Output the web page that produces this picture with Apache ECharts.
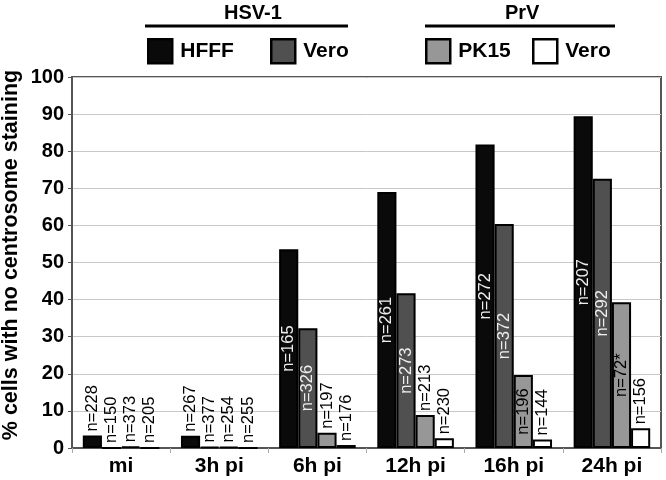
<!DOCTYPE html>
<html>
<head>
<meta charset="utf-8">
<script src="https://cdn.jsdelivr.net/npm/echarts@6/dist/echarts.min.js"></script>
<style>html,body{margin:0;padding:0;background:#fff}#c{width:666px;height:480px}</style>
</head>
<body>
<div id="c"></div>
<script>
const categories = ['mi', '3h pi', '6h pi', '12h pi', '16h pi', '24h pi'];
const seriesNames = ['HFFF', 'Vero (HSV-1)', 'PK15', 'Vero (PrV)'];
const hsvHFFF = [3.4, 3.3, 53.6, 69.0, 81.8, 89.4];
const hsvVero = [0, 0.3, 32.3, 41.7, 60.4, 72.6];
const prvPK15 = [0.4, 0.3, 4.1, 8.9, 19.7, 39.3];
const prvVero = [0, 0, 0.8, 2.6, 2.3, 5.3];
const nHFFF = ['n=228', 'n=267', 'n=165', 'n=261', 'n=272', 'n=207'];
const nHsvVero = ['n=150', 'n=377', 'n=326', 'n=273', 'n=372', 'n=292'];
const nPK15 = ['n=373', 'n=254', 'n=197', 'n=213', 'n=196', 'n=72*'];
const nPrvVero = ['n=205', 'n=255', 'n=176', 'n=230', 'n=144', 'n=156'];
const yTicks = [0, 10, 20, 30, 40, 50, 60, 70, 80, 90, 100];

const FONT = 'Liberation Sans, Arial, sans-serif';
const colors = ['#0a0a0a', '#505050', '#979797', '#ffffff'];
const insideColors = ['#eeeeee', '#eeeeee', '#000000', '#000000'];
const values = [hsvHFFF, hsvVero, prvPK15, prvVero];
const labels = [nHFFF, nHsvVero, nPK15, nPrvVero];

function buildData(si) {
  return values[si].map((v, i) => {
    const inside = v > 15;
    return {
      value: v,
      label: inside ? {
        position: 'inside', rotate: 90, color: insideColors[si],
        align: 'center', verticalAlign: 'middle'
      } : {
        position: 'top', rotate: 90, color: '#000',
        align: 'left', verticalAlign: 'middle', distance: 4
      }
    };
  });
}

const series = seriesNames.map((name, si) => ({
  name: name,
  type: 'bar',
  barGap: '0%',
  barCategoryGap: '22%',
  data: buildData(si),
  itemStyle: { color: colors[si], borderColor: '#000', borderWidth: 2 },
  label: {
    show: true,
    fontFamily: FONT, fontSize: 16.5,
    formatter: p => labels[si][p.dataIndex]
  },
  emphasis: { disabled: true }
}));

const legendPos = [142, 265, 420, 527];
const legends = seriesNames.map((name, i) => ({
  data: [name],
  left: legendPos[i], top: 33,
  icon: 'rect', itemWidth: 24, itemHeight: 24,
  itemStyle: { borderColor: '#000', borderWidth: 2.5 },
  formatter: n => n.replace(/ \(.*\)/, ''),
  textStyle: { fontFamily: FONT, fontSize: 21, fontWeight: 'bold', color: '#000', padding: [0, 0, 0, 3] },
  selectedMode: false
}));

const chart = echarts.init(document.getElementById('c'));
chart.setOption({
  animation: false,
  backgroundColor: '#fff',
  legend: legends,
  grid: { left: 72, right: 5, top: 77, bottom: 32, show: true, borderColor: '#555', borderWidth: 2, containLabel: false, outerBoundsMode: 'none' },
  xAxis: {
    type: 'category', data: categories,
    axisLine: { show: true, lineStyle: { color: '#555', width: 2 } },
    axisTick: { show: true, length: 5, lineStyle: { color: '#aaa' } },
    axisLabel: { fontFamily: FONT, fontSize: 21, fontWeight: 'bold', color: '#000', margin: 8 }
  },
  yAxis: {
    type: 'value', min: yTicks[0], max: yTicks[yTicks.length - 1], interval: 10,
    axisLine: { show: true, lineStyle: { color: '#555', width: 2 } },
    axisTick: { show: true, length: 4, lineStyle: { color: '#555' } },
    splitLine: { lineStyle: { color: '#c8c8c8', width: 1 } },
    axisLabel: { fontFamily: FONT, fontSize: 20, fontWeight: 'bold', color: '#000', margin: 8 }
  },
  graphic: [
    { type: 'text', x: 11, y: 255, rotation: Math.PI / 2,
      style: { text: '% cells with no centrosome staining', font: 'bold 21.5px ' + FONT, fill: '#000', align: 'center', verticalAlign: 'middle' } },
    { type: 'text', left: 224, top: 3, style: { text: 'HSV-1', font: 'bold 20px ' + FONT, fill: '#000' } },
    { type: 'line', shape: { x1: 145, y1: 26, x2: 348, y2: 26 }, style: { stroke: '#000', lineWidth: 3 } },
    { type: 'text', left: 505, top: 3, style: { text: 'PrV', font: 'bold 20px ' + FONT, fill: '#000' } },
    { type: 'line', shape: { x1: 425, y1: 26, x2: 615, y2: 26 }, style: { stroke: '#000', lineWidth: 3 } }
  ],
  series: series
});
</script>
</body>
</html>
